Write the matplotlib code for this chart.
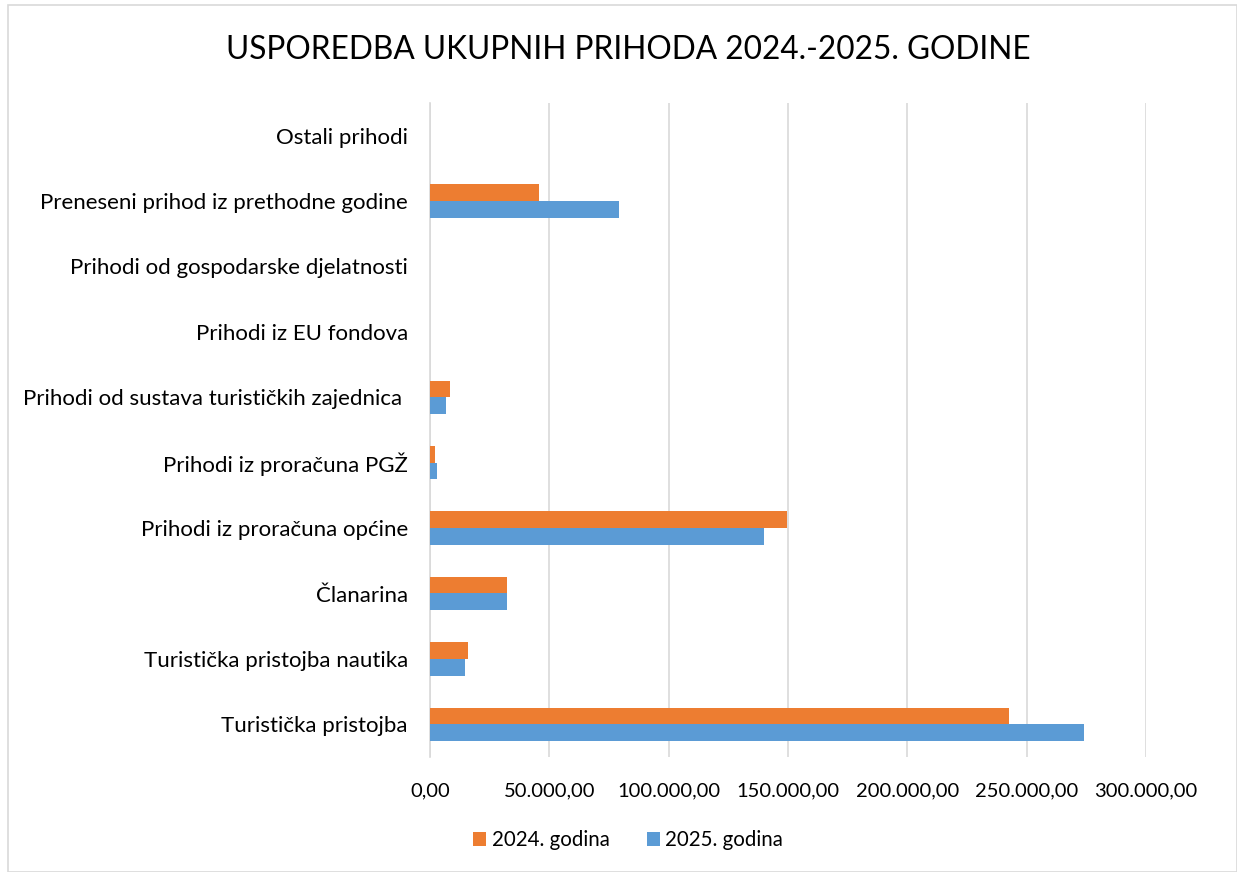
import matplotlib.pyplot as plt
import numpy as np
from matplotlib.ticker import FuncFormatter

categories = [
    "Turistička pristojba",
    "Turistička pristojba nautika",
    "Članarina",
    "Prihodi iz proračuna općine",
    "Prihodi iz proračuna PGŽ",
    "Prihodi od sustava turističkih zajednica ",
    "Prihodi iz EU fondova",
    "Prihodi od gospodarske djelatnosti",
    "Preneseni prihod iz prethodne godine",
    "Ostali prihodi",
]
godina_2024 = [242600, 16000, 32300, 149700, 2100, 8300, 0, 0, 45700, 0]
godina_2025 = [274000, 14600, 32200, 140100, 2800, 6700, 0, 0, 79000, 0]
x_ticks = [0, 50000, 100000, 150000, 200000, 250000, 300000]

plt.rcParams['font.family'] = ['Lato', 'DejaVu Sans']

fig = plt.figure(figsize=(12.37, 8.72), dpi=100)
ax = fig.add_axes([430 / 1237, 1 - 757 / 872, 716 / 1237, 654 / 872])

y = np.arange(len(categories))
h = 0.255
ax.barh(y + h / 2, godina_2024, height=h, color="#ed7d31", label="2024. godina", zorder=3)
ax.barh(y - h / 2, godina_2025, height=h, color="#5b9bd5", label="2025. godina", zorder=3)

ax.set_xlim(0, 300000)
ax.set_ylim(-0.5, len(categories) - 0.5)
ax.set_yticks(y)
ax.set_yticklabels(categories, fontsize=16, color="#000000")
ax.set_xticks(x_ticks)


def fmt(v, pos):
    s = f"{v:,.2f}"
    return s.replace(",", "X").replace(".", ",").replace("X", ".")


ax.xaxis.set_major_formatter(FuncFormatter(fmt))
ax.tick_params(axis="x", labelsize=14.5, length=0, pad=18)
ax.tick_params(axis="y", length=0, pad=16)
ax.grid(axis="x", color="#d9d9d9", linewidth=1.2, zorder=0)
for s in ["top", "right", "bottom"]:
    ax.spines[s].set_visible(False)
ax.spines["left"].set_color("#d9d9d9")
ax.spines["left"].set_linewidth(1.2)

fig.text(628 / 1237, 1 - 50 / 872, "USPOREDBA UKUPNIH PRIHODA 2024.-2025. GODINE",
         ha="center", va="center", fontsize=22.8)

fig.legend(loc="center", bbox_to_anchor=(628 / 1237, 1 - 840 / 872), ncol=2,
           frameon=False, fontsize=14.8, handlelength=0.65, handleheight=0.65,
           handletextpad=0.25, columnspacing=1.8)

border = plt.Rectangle((8 / 1237, 0), 1 - 8 / 1237, 1 - 5 / 872, transform=fig.transFigure,
                       fill=False, edgecolor="#d9d9d9", linewidth=1.2)
fig.patches.append(border)

fig.savefig("out.png", dpi=100)
